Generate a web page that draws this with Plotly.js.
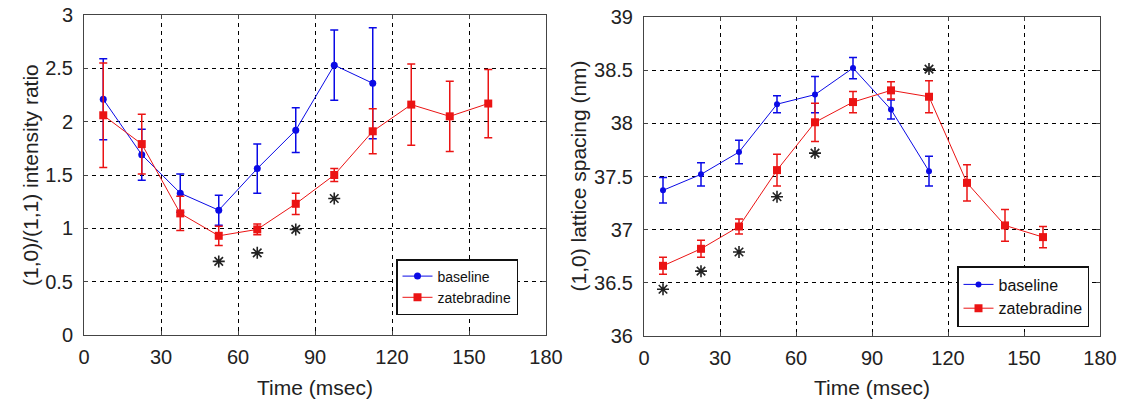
<!DOCTYPE html>
<html>
<head>
<meta charset="utf-8">
<script src="https://cdn.plot.ly/plotly-3.0.1.min.js"></script>
<style>html,body{margin:0;padding:0;background:#fff;}#chart{width:1123px;height:403px;}</style>
</head>
<body>
<div id="chart"></div>
<script>
// ---- data ----
const timeBaseline = [7.5, 22.5, 37.5, 52.5, 67.5, 82.5, 97.5, 112.5];
const timeZate = [7.5, 22.5, 37.5, 52.5, 67.5, 82.5, 97.5, 112.5, 127.5, 142.5, 157.5];

const ratioBaseline = [2.21, 1.69, 1.33, 1.17, 1.56, 1.92, 2.53, 2.36];
const ratioBaselineErr = [0.38, 0.24, 0.18, 0.14, 0.23, 0.21, 0.33, 0.52];
const ratioZate = [2.06, 1.79, 1.14, 0.93, 0.99, 1.23, 1.50, 1.91, 2.16, 2.05, 2.17];
const ratioZateErr = [0.49, 0.28, 0.16, 0.09, 0.05, 0.10, 0.06, 0.21, 0.38, 0.33, 0.32];
const ratioStarTime = [52.5, 67.5, 82.5, 97.5];
const ratioStarY = [0.69, 0.77, 0.99, 1.28];

const spacingBaseline = [37.37, 37.52, 37.73, 38.18, 38.27, 38.52, 38.13, 37.55];
const spacingBaselineErr = [0.12, 0.11, 0.11, 0.08, 0.17, 0.10, 0.09, 0.14];
const spacingZate = [36.66, 36.82, 37.03, 37.56, 38.01, 38.20, 38.31, 38.25, 37.44, 37.04, 36.93];
const spacingZateErr = [0.08, 0.08, 0.07, 0.15, 0.18, 0.10, 0.08, 0.15, 0.17, 0.15, 0.10];
const spacingStarTime = [7.5, 22.5, 37.5, 52.5, 67.5, 112.5];
const spacingStarY = [36.44, 36.61, 36.79, 37.31, 37.72, 38.51];

const xTicks = [0, 30, 60, 90, 120, 150, 180];
const ratioTicks = [0, 0.5, 1, 1.5, 2, 2.5, 3];
const spacingTicks = [36, 36.5, 37, 37.5, 38, 38.5, 39];

const xTitle = 'Time (msec)';
const ratioTitle = '(1,0)/(1,1) intensity ratio';
const spacingTitle = '(1,0) lattice spacing (nm)';

// ---- styles ----
const W = 1123, H = 403;
const BLUE = 'rgb(10,10,230)';
const RED = 'rgb(235,20,20)';
const FONT = 'Liberation Sans, Arial, sans-serif';
const TXT = '#222';

function series(x, y, err, color, symbol, size, xa, ya, name, legend) {
  return {
    type: 'scatter', mode: 'lines+markers', x: x, y: y, name: name,
    xaxis: xa, yaxis: ya, legend: legend,
    line: {color: color, width: 1},
    marker: {color: color, symbol: symbol, size: size},
    error_y: {type: 'data', array: err, visible: true, color: color, thickness: 1.5, width: 4}
  };
}
function stars(x, y, xa, ya) {
  return {
    type: 'scatter', mode: 'markers', x: x, y: y, xaxis: xa, yaxis: ya,
    showlegend: false, hoverinfo: 'skip',
    marker: {symbol: 'asterisk-open', size: 10, color: '#222', line: {color: '#222', width: 1.6}}
  };
}

const traces = [
  series(timeBaseline, ratioBaseline, ratioBaselineErr, BLUE, 'circle', 7, 'x', 'y', 'baseline', 'legend'),
  series(timeZate, ratioZate, ratioZateErr, RED, 'square', 8, 'x', 'y', 'zatebradine', 'legend'),
  stars(ratioStarTime, ratioStarY, 'x', 'y'),
  series(timeBaseline, spacingBaseline, spacingBaselineErr, BLUE, 'circle', 6, 'x2', 'y2', 'baseline', 'legend2'),
  series(timeZate, spacingZate, spacingZateErr, RED, 'square', 8, 'x2', 'y2', 'zatebradine', 'legend2'),
  stars(spacingStarTime, spacingStarY, 'x2', 'y2')
];

const common = {
  showline: true, mirror: 'ticks', linecolor: '#444', linewidth: 1,
  ticks: 'inside', ticklen: 4, tickcolor: '#444',
  showgrid: true, gridcolor: '#000', gridwidth: 1, griddash: '4px,4px',
  zeroline: false, tickfont: {family: FONT, size: 20, color: TXT}, ticklabelstandoff: 4
};
function xaxis(domain, anchor) {
  return Object.assign({}, common, {
    domain: domain, anchor: anchor, range: [0, 180], tickvals: xTicks, ticktext: xTicks.map(String)
  });
}
function yaxis(domain, anchor, range, ticks) {
  return Object.assign({}, common, {
    domain: domain, anchor: anchor, range: range, tickvals: ticks, ticktext: ticks.map(String),
    ticklabelstandoff: 6
  });
}

// plot boxes (pixels)
const L = {x0: 84, x1: 546, top: 15, bottom: 335};
const R = {x0: 644, x1: 1100, top: 17, bottom: 336};
const dx = b => [b.x0 / W, b.x1 / W];
const dy = b => [(H - b.bottom) / H, (H - b.top) / H];

const legendStyle = {
  bgcolor: '#fff', bordercolor: '#111', borderwidth: 1.5,
  tracegroupgap: 0, itemwidth: 30, xanchor: 'right', yanchor: 'top', xref: 'paper', yref: 'paper'
};

function ann(text, xpx, ypx, angle) {
  return {text: text, x: xpx / W, y: (H - ypx) / H, xref: 'paper', yref: 'paper',
    xanchor: 'center', yanchor: 'middle', showarrow: false, textangle: angle,
    font: {family: FONT, size: 21, color: TXT}};
}

const layout = {
  width: W, height: H,
  margin: {l: 0, r: 0, t: 0, b: 0},
  paper_bgcolor: '#fff', plot_bgcolor: '#fff',
  showlegend: true,
  xaxis: xaxis(dx(L), 'y'),
  yaxis: yaxis(dy(L), 'x', [0, 3], ratioTicks),
  xaxis2: xaxis(dx(R), 'y2'),
  yaxis2: yaxis(dy(R), 'x2', [36, 39], spacingTicks),
  legend: Object.assign({}, legendStyle, {x: 518 / W, y: (H - 259) / H,
    font: {family: FONT, size: 14, color: '#111'}}),
  legend2: Object.assign({}, legendStyle, {x: 1089 / W, y: (H - 266) / H,
    font: {family: FONT, size: 16, color: '#111'}}),
  annotations: [
    ann(xTitle, (L.x0 + L.x1) / 2, 387, 0),
    ann(xTitle, (R.x0 + R.x1) / 2, 387, 0),
    ann(ratioTitle, 30, (L.top + L.bottom) / 2, -90),
    ann(spacingTitle, 578, (R.top + R.bottom) / 2, -90)
  ]
};

Plotly.newPlot('chart', traces, layout, {displayModeBar: false, staticPlot: true});
</script>
</body>
</html>
